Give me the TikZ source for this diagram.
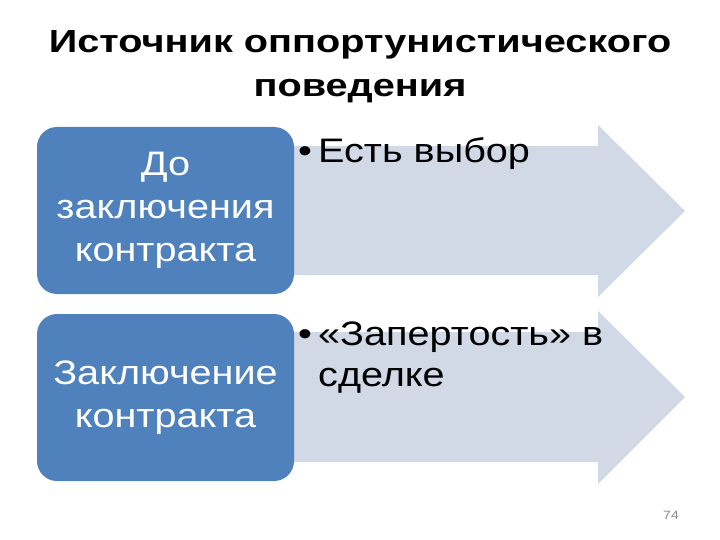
\documentclass[tikz,border=0pt]{standalone}
\usepackage{fontspec}
\setmainfont{Liberation Sans}[FakeStretch=1.165]
\newfontfamily\titlefont{Liberation Sans}[FakeStretch=1.24]
\definecolor{boxblue}{HTML}{4F81BD}
\definecolor{arrowblue}{HTML}{D1D9E7}
\definecolor{pagegray}{HTML}{8C8C8C}
\begin{document}
\begin{tikzpicture}[x=1pt,y=-1pt,
    stagebox/.style={fill=boxblue, rounded corners=20pt, minimum width=257pt,
      minimum height=167pt, inner sep=0pt, text=white, align=center,
      font=\fontsize{34}{43}\selectfont},
    itemtext/.style={anchor=base west, inner sep=0pt, align=left,
      font=\fontsize{34}{41}\selectfont}]
        \useasboundingbox (0,0) rectangle (720,540);
        \node[font=\titlefont\bfseries\fontsize{32}{44}\selectfont, align=center, anchor=base] (title) at (360,97)
          {Источник оппортунистического\\поведения};
        % arrows behind the boxes
        \fill[arrowblue] (250,146) -- (598,146) -- (598,125) -- (685,211) -- (598,297) -- (598,275) -- (250,275) -- cycle;
        \fill[arrowblue] (250,332) -- (598,332) -- (598,311) -- (685,397) -- (598,484) -- (598,462) -- (250,462) -- cycle;
        \node[stagebox] (before) at (165.5,210.5) {До\\заключения\\контракта};
        \node[stagebox] (signing) at (165.5,397.5) {Заключение\\контракта};
        \node[itemtext] (choice) at (298,163) {\makebox[20pt][l]{\textbullet}Есть выбор};
        \node[itemtext] (lockin) at (298,386) {\makebox[20pt][l]{\textbullet}«Запертость» в\\\hspace*{20pt}сделке};
        \node[font=\fontsize{12}{14}\selectfont, text=pagegray] (page) at (671,515) {74};
      \end{tikzpicture}
\end{document}
